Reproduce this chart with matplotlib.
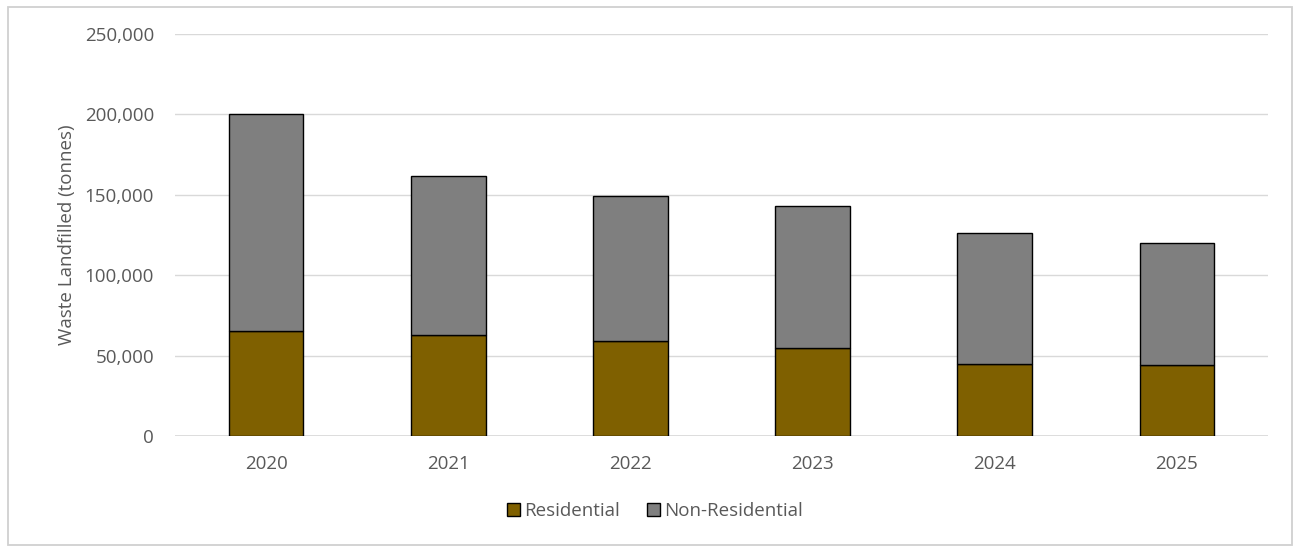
import matplotlib
matplotlib.use("Agg")
import matplotlib.pyplot as plt
from matplotlib.patches import Rectangle
from matplotlib.ticker import FuncFormatter

years = ["2020", "2021", "2022", "2023", "2024", "2025"]
residential = [65000, 63000, 59000, 55000, 45000, 44000]
non_residential = [135000, 99000, 90000, 88000, 81000, 76000]
yticks = [0, 50000, 100000, 150000, 200000, 250000]

plt.rcParams['font.family'] = ['Open Sans', 'DejaVu Sans']
txt = '#595959'
fs = 13.5

fig = plt.figure(figsize=(13.01, 5.52), dpi=100)
fig.patch.set_facecolor('white')
fig.add_artist(Rectangle((8/1301, 7/552), 1284/1301, 538/552, transform=fig.transFigure,
                         fill=False, edgecolor='#d0d0d0', linewidth=1.3))

ax = fig.add_axes([175/1301, 1 - 436/552, 1093/1301, 402/552])
x = list(range(len(years)))
w = 0.41
ax.bar(x, residential, width=w, color='#7f6000', edgecolor='black', linewidth=1.0,
       label='Residential', zorder=3)
ax.bar(x, non_residential, width=w, bottom=residential, color='#7f7f7f',
       edgecolor='black', linewidth=1.0, label='Non-Residential', zorder=3)

ax.set_xlim(-0.5, len(years) - 0.5)
ax.set_ylim(0, 250000)
ax.set_yticks(yticks)
ax.yaxis.set_major_formatter(FuncFormatter(lambda v, p: f"{int(v):,}"))
ax.set_xticks(x)
ax.set_xticklabels(years)
ax.grid(axis='y', color='#d9d9d9', linewidth=1.0, zorder=0)
ax.axhline(0, color='#d9d9d9', linewidth=1.2, zorder=1)
for s in ax.spines.values():
    s.set_visible(False)
ax.tick_params(axis='both', length=0, labelsize=fs, colors=txt)
ax.tick_params(axis='x', pad=14)
ax.tick_params(axis='y', pad=15)
ax.set_ylabel('Waste Landfilled (tonnes)', fontsize=fs, color=txt, labelpad=6)

leg = fig.legend(loc='center', bbox_to_anchor=(655/1301, 1 - 511/552), ncol=2,
                 frameon=False, fontsize=fs, handlelength=0.7, handleheight=0.7,
                 columnspacing=1.4, handletextpad=0.25)
for t in leg.get_texts():
    t.set_color(txt)

fig.savefig('out.png', dpi=100, facecolor='white')
